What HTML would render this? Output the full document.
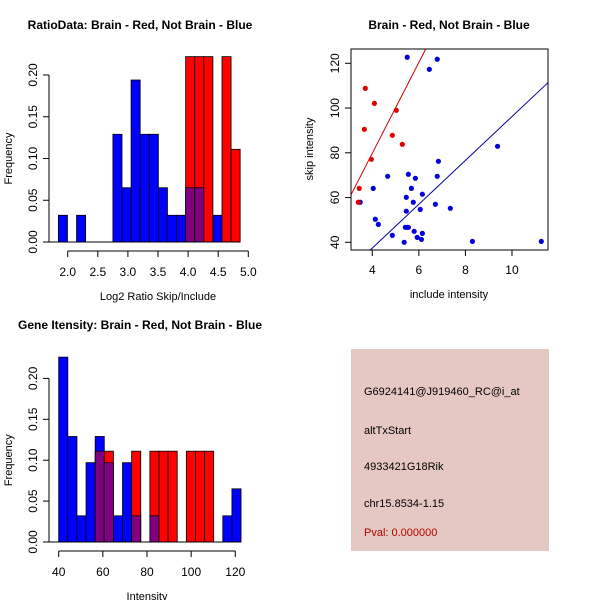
<!DOCTYPE html>
<html><head><meta charset="utf-8"><style>
body{margin:0;background:#fff;}
svg{display:block;font-family:"Liberation Sans",sans-serif;}
</style></head><body>
<svg id="c" width="600" height="600" viewBox="0 0 600 600">
<rect width="600" height="600" fill="#fff"/>
<text x="140" y="29" text-anchor="middle" font-size="12" font-weight="bold">RatioData: Brain - Red, Not Brain - Blue</text>
<text x="449" y="29" text-anchor="middle" font-size="12" font-weight="bold">Brain - Red, Not Brain - Blue</text>
<text x="140" y="329" text-anchor="middle" font-size="12" font-weight="bold">Gene Itensity: Brain - Red, Not Brain - Blue</text>
<g id="p1"></g>
<g id="p2"></g>
<g id="p3"></g>
<g>
<rect x="351" y="349" width="198" height="202" fill="#e6c8c2"/>
<text x="364" y="395" font-size="11">G6924141@J919460_RC@i_at</text>
<text x="364" y="434" font-size="11">altTxStart</text>
<text x="364" y="470" font-size="11">4933421G18Rik</text>
<text x="364" y="507" font-size="11">chr15.8534-1.15</text>
<text x="364" y="536" font-size="11" fill="#b00000">Pval: 0.000000</text>
</g>
</svg>
<script>
// ---- histogram 1 data ----
const ratioBinStart = 1.845, ratioBinWidth = 0.151;
const ratioBlue = [0.032,0,0.032,0,0,0,0.129,0.065,0.194,0.129,0.129,0.065,0.032,0.032,0.065,0.065,0,0.032,0,0];
const ratioRed  = [0,0,0,0,0,0,0,0,0,0,0,0,0,0,0.222,0.222,0.222,0,0.222,0.111];
const ratioXTicks = ["2.0","2.5","3.0","3.5","4.0","4.5","5.0"];
const ratioYTicks = ["0.00","0.05","0.10","0.15","0.20"];
// ---- scatter data ----
const blueX = [5.50,6.79,6.45,9.38,6.84,4.66,5.55,5.85,6.79,4.04,5.68,5.46,6.15,3.48,5.76,6.71,7.35,6.06,5.46,4.13,4.26,5.42,5.55,5.50,5.80,6.15,4.86,5.93,6.11,5.37,8.30,11.26];
const blueY = [122.7,121.8,117.3,82.9,76.2,69.5,70.4,68.6,69.5,64.1,64.1,60.1,61.5,57.9,57.9,57.0,55.2,54.7,53.9,50.3,48.0,46.7,46.7,46.7,44.9,44.0,43.1,42.2,41.3,40.0,40.4,40.4];
const redX = [3.70,4.09,5.03,3.66,4.86,5.29,3.96,3.44,3.40];
const redY = [108.8,102.1,99.0,90.5,87.8,83.8,77.1,64.1,57.9];
const fitIntercept = [-1.4,-1.8]; // red, blue
const fitSlope = [20.3,9.8];
const scatterXTicks = [4,6,8,10];
const scatterYTicks = [40,60,80,100,120];
// ---- histogram 3 data ----
const intBinStart = 40, intBinWidth = 4.13;
const intBlue = [0.226,0.129,0.032,0.097,0.129,0.097,0.032,0.097,0.032,0,0.032,0,0,0,0,0,0,0,0.032,0.065];
const intRed  = [0,0,0,0,0.111,0.111,0,0,0.111,0,0.111,0.111,0.111,0,0.111,0.111,0.111,0,0,0];
const intXTicks = [40,60,80,100,120];
const intYTicks = ["0.00","0.05","0.10","0.15","0.20"];

const NS="http://www.w3.org/2000/svg";
function mk(parent,tag,attrs){const e=document.createElementNS(NS,tag);for(const k in attrs)e.setAttribute(k,attrs[k]);parent.appendChild(e);return e;}

function hist(g,blue,red,start,width,sx,sy,xticks,yticks,xlabel,xAxisY,yAxisX){
  for(let i=0;i<blue.length;i++){
    const x0=sx(start+i*width),x1=sx(start+(i+1)*width);
    const b=blue[i],r=red[i];
    const hi=Math.max(b,r),lo=Math.min(b,r);
    if(hi>0){
      const r1=mk(g,'rect',{x:x0,y:sy(hi),width:x1-x0,height:sy(0)-sy(hi),fill:b>=r?'#0000ff':'#ff0000',stroke:'#000','stroke-width':0.8});
      
      
    }
    if(lo>0){
      const r2=mk(g,'rect',{x:x0,y:sy(lo),width:x1-x0,height:sy(0)-sy(lo),fill:'#800080',stroke:'#000','stroke-width':0.8});
      
      
    }
  }
  mk(g,'line',{x1:yAxisX,x2:sx(start+blue.length*width),y1:sy(0),y2:sy(0),stroke:'#000'});
  // x axis
  const xv=xticks.map(Number);
  mk(g,'line',{x1:sx(xv[0]),x2:sx(xv[xv.length-1]),y1:xAxisY,y2:xAxisY,stroke:'#000'});
  xticks.forEach(t=>{const x=sx(Number(t));mk(g,'line',{x1:x,x2:x,y1:xAxisY,y2:xAxisY+6,stroke:'#000'});
    const tx=mk(g,'text',{x:x,y:xAxisY+25,'text-anchor':'middle','font-size':12});tx.textContent=t;
    
    });
  const xl=mk(g,'text',{x:(sx(xv[0])+sx(xv[xv.length-1]))/2,y:xAxisY+49,'text-anchor':'middle','font-size':11});xl.textContent=xlabel;
  
  
  // y axis
  const yv=yticks.map(Number);
  mk(g,'line',{x1:yAxisX,x2:yAxisX,y1:sy(yv[0]),y2:sy(yv[yv.length-1]),stroke:'#000'});
  yticks.forEach(t=>{const y=sy(Number(t));mk(g,'line',{x1:yAxisX,x2:yAxisX-6,y1:y,y2:y,stroke:'#000'});
    const tx=mk(g,'text',{x:0,y:0,'text-anchor':'middle','font-size':12,transform:`translate(${yAxisX-12},${y}) rotate(-90)`});tx.textContent=t;
    
    });
  const yl=mk(g,'text',{x:0,y:0,'text-anchor':'middle','font-size':11,transform:`translate(12,${(sy(yv[0])+sy(yv[yv.length-1]))/2}) rotate(-90)`});yl.textContent='Frequency';
  
  
}

// plot 1
{const sx=v=>67.7+(v-2)*60.2, sy=v=>242-v*835;
 hist(document.getElementById('p1'),ratioBlue,ratioRed,ratioBinStart,ratioBinWidth,sx,sy,ratioXTicks,ratioYTicks,'Log2 Ratio Skip/Include',251,49);}
// plot 3
{const sx=v=>58.7+(v-40)*2.2075, sy=v=>542-v*818;
 hist(document.getElementById('p3'),intBlue,intRed,intBinStart,intBinWidth,sx,sy,intXTicks,intYTicks,'Intensity',551,49);}

// scatter
{const g=document.getElementById('p2');
 const L=351,R=548,T=49,B=250;
 const sx=v=>372.3+(v-4)*23.28, sy=v=>242.3-(v-40)*2.2375;
 const defs=mk(g,'defs',{});const cp=mk(defs,'clipPath',{id:'clipS'});mk(cp,'rect',{x:L,y:T,width:R-L,height:B-T});
 const cols=['#cc0000','#000099'];
 for(let k=0;k<2;k++){
   const xa=2,xb=13;
   const ln=mk(g,'line',{x1:sx(xa),y1:sy(fitIntercept[k]+fitSlope[k]*xa),x2:sx(xb),y2:sy(fitIntercept[k]+fitSlope[k]*xb),stroke:cols[k],'stroke-width':1,'clip-path':'url(#clipS)'});
   
   
 }
 blueX.forEach((x,i)=>{const c=mk(g,'circle',{cx:sx(x),cy:sy(blueY[i]),r:2.6,fill:'#0000dd'});
   
   });
 redX.forEach((x,i)=>{const c=mk(g,'circle',{cx:sx(x),cy:sy(redY[i]),r:2.6,fill:'#dd0000'});
   
   });
 mk(g,'rect',{x:L,y:T,width:R-L,height:B-T,fill:'none',stroke:'#000'});
 mk(g,'line',{x1:sx(scatterXTicks[0]),x2:sx(scatterXTicks[scatterXTicks.length-1]),y1:B,y2:B,stroke:'#000'});
 scatterXTicks.forEach(t=>{const x=sx(t);mk(g,'line',{x1:x,x2:x,y1:B,y2:B+6,stroke:'#000'});
   const tx=mk(g,'text',{x:x,y:B+24,'text-anchor':'middle','font-size':12});tx.textContent=t;
   
   });
 scatterYTicks.forEach(t=>{const y=sy(t);mk(g,'line',{x1:L,x2:L-6,y1:y,y2:y,stroke:'#000'});
   const tx=mk(g,'text',{x:0,y:0,'text-anchor':'middle','font-size':12,transform:`translate(${L-12},${y}) rotate(-90)`});tx.textContent=t;
   
   });
 const xl=mk(g,'text',{x:449,y:298,'text-anchor':'middle','font-size':11});xl.textContent='include intensity';
 
 
 const yl=mk(g,'text',{x:0,y:0,'text-anchor':'middle','font-size':11,transform:'translate(313,149) rotate(-90)'});yl.textContent='skip intensity';
 
 
}
</script>
</body></html>
